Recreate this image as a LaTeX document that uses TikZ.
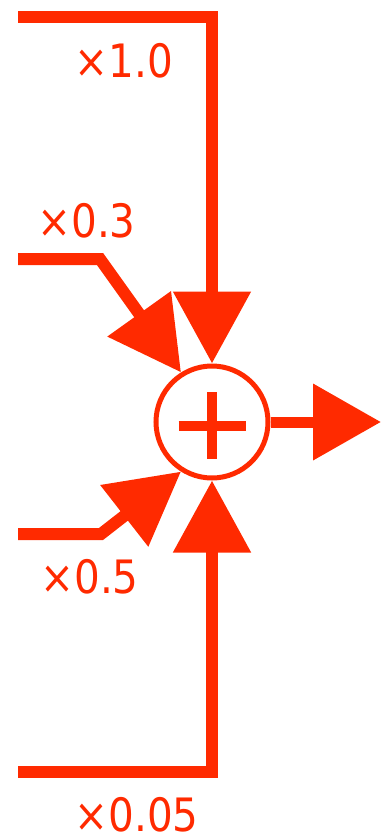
\documentclass[tikz,border=0pt]{standalone}
\usepackage{fontspec}
\newfontfamily\labfont[FakeStretch=0.88]{DejaVu Sans}
\usetikzlibrary{arrows.meta}
\definecolor{sumred}{RGB}{255,42,0}
\begin{document}
\begin{tikzpicture}[x=1pt,y=-1pt,
  wire/.style={draw=sumred,line width=12pt,line join=miter,-{Triangle[length=72pt,width=75pt]}},
  sumnode/.style={circle,draw=sumred,line width=5pt,minimum size=112pt,inner sep=0pt},
  plusbar/.style={draw=sumred,line width=10pt},
  lab/.style={text=sumred,font=\labfont\fontsize{46}{46}\selectfont,anchor=base,inner sep=0pt,text depth=0pt}]
\useasboundingbox (0,0) rectangle (381,839);
\node[sumnode] (c) at (212,422) {};
\draw[plusbar] (c.center) ++(-33.5,3.5) -- ++(67,0);
\draw[plusbar] (c.center) ++(0,-30) -- ++(0,67);
\coordinate (in1) at (18,16.5);
\coordinate (in2) at (18,259);
\coordinate (b2) at (100,259);
\coordinate (in3) at (18,534);
\coordinate (b3) at (101,534);
\coordinate (in4) at (18,772);
\coordinate (out) at (381,422);
\draw[wire] (in1) -| (c);
\draw[wire] (in2) -- (b2) -- (c.122);
\draw[wire] (in3) -- (b3) -- (c.238);
\draw[wire] (in4) -| (c);
\draw[wire,line width=11pt,-{Triangle[length=68pt,width=74pt]}] (c) -- (out);
\node[lab] (l1) at (124,77) {×1.0};
\node[lab] (l2) at (86.5,237) {×0.3};
\node[lab] (l3) at (89.5,593) {×0.5};
\node[lab] (l4) at (136.5,831.5) {×0.05};
\end{tikzpicture}
\end{document}
